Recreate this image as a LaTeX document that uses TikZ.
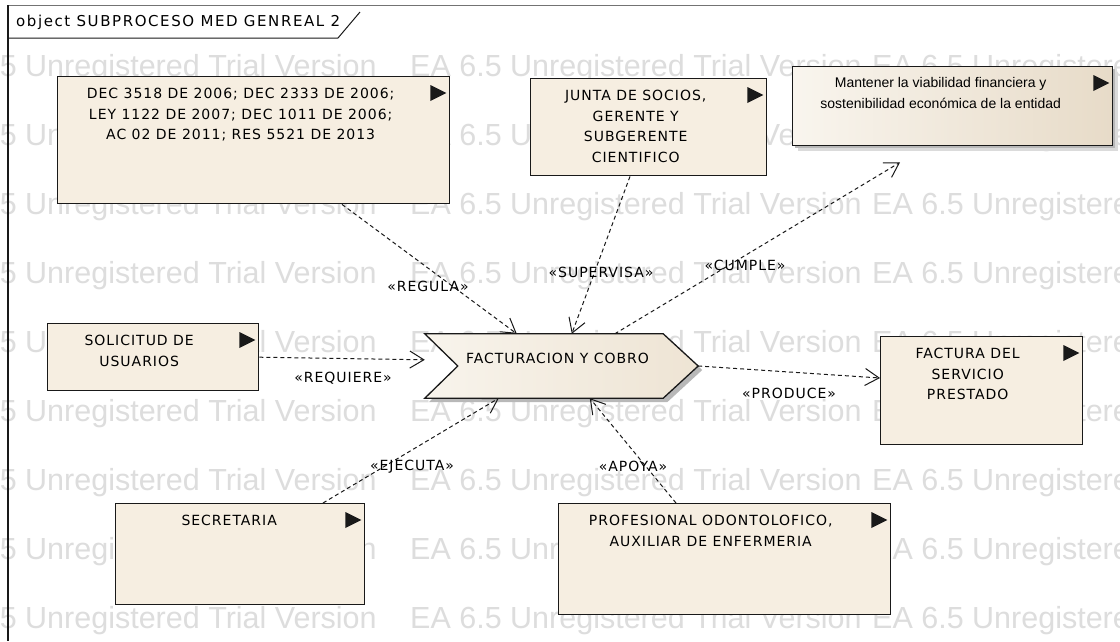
\documentclass[tikz,border=0pt]{standalone}
\usepackage{fontspec}
\usetikzlibrary{arrows.meta,calc}
\newfontfamily\eafont[LetterSpace=7]{DejaVu Sans}
\newfontfamily\titlefont[LetterSpace=10.5]{DejaVu Sans}
\newfontfamily\goalfont{Liberation Sans}
\newfontfamily\wmfont{Liberation Sans}
\definecolor{boxfill}{RGB}{246,238,225}
\definecolor{goalleft}{RGB}{249,245,238}
\definecolor{goalright}{RGB}{231,219,200}
\definecolor{actleft}{RGB}{248,244,236}
\definecolor{actright}{RGB}{238,228,212}
\definecolor{wmgray}{RGB}{221,221,221}
\definecolor{edge}{RGB}{25,25,25}

% black "composite" marker in the upper right corner of an element
\newcommand\eamark[1]{%
  \fill[edge] ($(#1.north east)+(-20,9)$) -- ($(#1.north east)+(-20,25)$)
    -- ($(#1.north east)+(-4,17)$) -- cycle;}

\begin{document}
\begin{tikzpicture}[x=1pt,y=-1pt,
  eabox/.style={draw=edge, line width=1.4pt, fill=boxfill, inner sep=0pt, anchor=north west},
  eatext/.style={font={\eafont\fontsize{14}{20.5}\selectfont}, align=center, inner sep=0pt, text=black},
  boxtext/.style={eatext, anchor=north},
  goaltext/.style={font={\goalfont\fontsize{14}{21}\selectfont}, align=center, inner sep=0pt, anchor=north},
  wm/.style={font={\wmfont\fontsize{30.5}{33}\selectfont}, text=wmgray, inner sep=0pt, anchor=base west},
  dep/.style={draw=edge, line width=1pt, dash pattern=on 4pt off 3pt,
    -{Straight Barb[length=14pt,width=17pt,line width=1pt]}},
  shadowfar/.style={fill=black!14},
  shadownear/.style={fill=black!28}]

\useasboundingbox (0,0) rectangle (1120,641);
\fill[white] (0,0) rectangle (1120,641);

% background watermark rows
\begin{scope}
  \clip (0,0) rectangle (1120,641);
  \foreach \r in {0,...,8}{
    \foreach \c [count=\ci] in {-75,410,872}{
      \node[wm] (wm-\r-\ci) at (\c,76+69*\r) {EA 6.5 Unregistered Trial Version};
    }
  }
\end{scope}

% diagram frame with its name tab
\draw[black!55, line width=1pt] (8,5) -- (1120,5);
\draw[edge, line width=1.3pt] (8,5) -- (8,641);
\draw[edge, line width=1pt] (8,38) -- (338,38) -- (360,12);
\node[font={\titlefont\fontsize{15}{17}\selectfont}, inner sep=0pt, anchor=west] (title) at (16,22) {object SUBPROCESO MED GENREAL 2};

% elements
\node[eabox, minimum width=392pt, minimum height=127pt] (dec) at (57,76) {};
\eamark{dec}
\node[boxtext] (dec-t) at ($(dec.north)+(-13,12)$) {DEC 3518 DE 2006; DEC 2333 DE 2006;\\LEY 1122 DE 2007; DEC 1011 DE 2006;\\AC 02 DE 2011; RES 5521 DE 2013};

\node[eabox, minimum width=236pt, minimum height=97pt] (junta) at (530,78) {};
\eamark{junta}
\node[boxtext] (junta-t) at ($(junta.north)+(-13,12)$) {JUNTA DE SOCIOS,\\GERENTE Y\\SUBGERENTE\\CIENTIFICO};

% goal element with gradient and drop shadow
\path (792,66) coordinate (mant-nw);
\fill[shadowfar] ($(mant-nw)+(6,6)$) rectangle ++(320,79);
\fill[shadownear] ($(mant-nw)+(3,3)$) rectangle ++(320,79);
\node[eabox, minimum width=320pt, minimum height=79pt, left color=goalleft, right color=goalright] (mant) at (mant-nw) {};
\eamark{mant}
\node[goaltext] (mant-t) at ($(mant.north)+(-12,11)$) {Mantener la viabilidad financiera y\\sostenibilidad económica de la entidad};

\node[eabox, minimum width=211pt, minimum height=67pt] (sol) at (47,323) {};
\eamark{sol}
\node[boxtext] (sol-t) at ($(sol.north)+(-14,12)$) {SOLICITUD DE\\USUARIOS};

\node[eabox, minimum width=202pt, minimum height=108pt] (factura) at (880,336) {};
\eamark{factura}
\node[boxtext] (factura-t) at ($(factura.north)+(-14,12)$) {FACTURA DEL\\SERVICIO\\PRESTADO};

\node[eabox, minimum width=249pt, minimum height=101pt] (secr) at (115,503) {};
\eamark{secr}
\node[boxtext] (secr-t) at ($(secr.north)+(-11,12)$) {SECRETARIA};

\node[eabox, minimum width=332pt, minimum height=111pt] (prof) at (558,503) {};
\eamark{prof}
\node[boxtext] (prof-t) at ($(prof.north)+(-14,12)$) {PROFESIONAL ODONTOLOFICO,\\AUXILIAR DE ENFERMERIA};

% activity: chevron shaped
\node[inner sep=0pt, minimum width=273pt, minimum height=64pt] (fact) at (561.5,366) {};
\fill[shadownear] ($(fact.north west)+(4,4)$) -- ($(fact.north east)+(-31,4)$) -- ($(fact.east)+(4,4)$)
  -- ($(fact.south east)+(-31,4)$) -- ($(fact.south west)+(4,4)$) -- ($(fact.west)+(37,4)$) -- cycle;
\draw[edge, line width=1.3pt, left color=actleft, right color=actright]
  (fact.north west) -- ($(fact.north east)+(-35,0)$) -- (fact.east)
  -- ($(fact.south east)+(-35,0)$) -- (fact.south west) -- ($(fact.west)+(33,0)$) -- cycle;
\node[eatext] (fact-t) at ($(fact.center)+(-4,-8)$) {FACTURACION Y COBRO};

% dependencies
\draw[dep] ($(dec.south west)+(285,0)$) -- ($(fact.north west)+(92,0)$);
\draw[dep] ($(junta.south west)+(100,0)$) -- ($(fact.north west)+(147,0)$);
\draw[dep] ($(fact.north west)+(190,0)$) -- ($(mant.south west)+(108,16)$);
\draw[dep] (sol.east) -- ($(fact.north west)+(0,26)$);
\draw[dep] (fact.east) -- ($(factura.north west)+(0,42)$);
\draw[dep] ($(secr.north west)+(208,0)$) -- ($(fact.south west)+(74,0)$);
\draw[dep] ($(prof.north west)+(118,0)$) -- ($(fact.south west)+(165,0)$);

% stereotype labels
\node[eatext] (lab-regula) at (428,286) {«REGULA»};
\node[eatext] (lab-supervisa) at (601,272) {«SUPERVISA»};
\node[eatext] (lab-cumple) at (745,265) {«CUMPLE»};
\node[eatext] (lab-requiere) at (343,378) {«REQUIERE»};
\node[eatext] (lab-produce) at (789,393) {«PRODUCE»};
\node[eatext] (lab-ejecuta) at (412,467) {«EJECUTA»};
\node[eatext] (lab-apoya) at (633,466) {«APOYA»};
\end{tikzpicture}
\end{document}
